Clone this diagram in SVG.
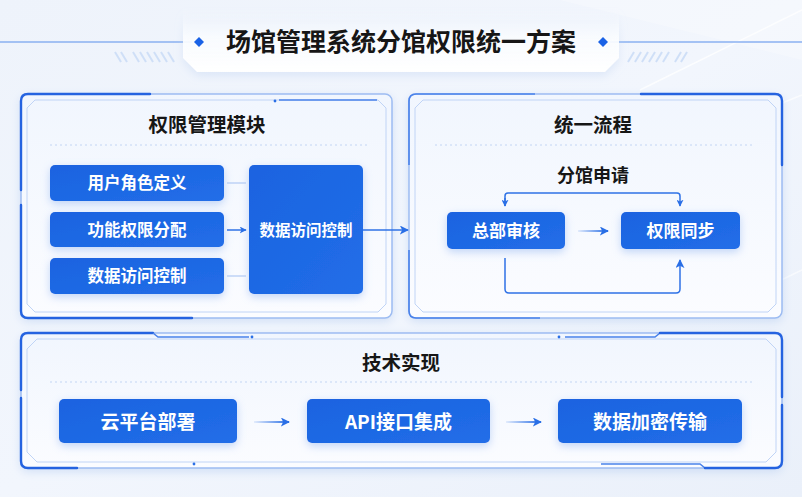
<svg xmlns="http://www.w3.org/2000/svg" width="802" height="497" viewBox="0 0 802 497">
<defs>
<linearGradient id="bg" x1="0" y1="0" x2="1" y2="1">
<stop offset="0" stop-color="#eef3fb"/>
<stop offset="0.5" stop-color="#f2f6fd"/>
<stop offset="1" stop-color="#eaf0fa"/>
</linearGradient>
<linearGradient id="pg" x1="0" y1="0" x2="0" y2="1">
<stop offset="0" stop-color="#f1f6fe"/>
<stop offset="1" stop-color="#fbfcff"/>
</linearGradient>
<linearGradient id="plate" x1="0" y1="0" x2="0" y2="1">
<stop offset="0" stop-color="#f7faff" stop-opacity="0"/>
<stop offset="0.45" stop-color="#fbfdff" stop-opacity="0.9"/>
<stop offset="1" stop-color="#ffffff"/>
</linearGradient>
<linearGradient id="box" x1="0" y1="0" x2="1" y2="1">
<stop offset="0" stop-color="#1a63e0"/>
<stop offset="1" stop-color="#226ee8"/>
</linearGradient>
<linearGradient id="ag1" gradientUnits="userSpaceOnUse" x1="578" y1="0" x2="608" y2="0">
<stop offset="0" stop-color="#2a6fe6" stop-opacity="0.1"/>
<stop offset="1" stop-color="#2a6fe6"/>
</linearGradient>
<linearGradient id="ag2" gradientUnits="userSpaceOnUse" x1="254" y1="0" x2="289" y2="0">
<stop offset="0" stop-color="#2a6fe6" stop-opacity="0.1"/>
<stop offset="1" stop-color="#2a6fe6"/>
</linearGradient>
<linearGradient id="ag3" gradientUnits="userSpaceOnUse" x1="506" y1="0" x2="541" y2="0">
<stop offset="0" stop-color="#2a6fe6" stop-opacity="0.1"/>
<stop offset="1" stop-color="#2a6fe6"/>
</linearGradient>
<filter id="psh" x="-10%" y="-10%" width="120%" height="125%">
<feDropShadow dx="0" dy="3" stdDeviation="5" flood-color="#a9c4ee" flood-opacity="0.45"/>
</filter>
<filter id="tsh" x="-10%" y="-20%" width="120%" height="160%">
<feDropShadow dx="0" dy="4" stdDeviation="4" flood-color="#b7cdef" flood-opacity="0.35"/>
</filter>
<filter id="bsh" x="-20%" y="-30%" width="140%" height="170%">
<feDropShadow dx="0" dy="3" stdDeviation="4" flood-color="#7aa6ee" flood-opacity="0.45"/>
</filter>
<marker id="ah" viewBox="0 0 10 10" refX="9" refY="5" markerWidth="7" markerHeight="7" markerUnits="userSpaceOnUse" orient="auto">
<path d="M0,0 L10,5 L0,10 L2.5,5 Z" fill="#2a6fe6"/>
</marker>
<marker id="ah2" viewBox="0 0 10 10" refX="9" refY="5" markerWidth="9" markerHeight="9" markerUnits="userSpaceOnUse" orient="auto">
<path d="M0,0 L10,5 L0,10 L2.5,5 Z" fill="#2a6fe6"/>
</marker>
</defs>
<style>
.ttl{font-family:"Noto Sans CJK SC","Noto Sans",sans-serif;font-weight:700;fill:#161616;text-anchor:middle}
.bt{font-family:"Noto Sans CJK SC","Noto Sans",sans-serif;font-weight:700;fill:#ffffff;text-anchor:middle}
.panel{fill:url(#pg);stroke:#9dbcf2;stroke-width:1.5;filter:url(#psh)}
.acc{fill:none;stroke:#2563e0;stroke-width:2.4;stroke-linecap:round}
.acc2{fill:none;stroke:#4a82ea;stroke-width:1.6}
.inner{fill:none;stroke:#c0d4f6;stroke-width:1}
.dot{fill:none;stroke:#c3d5f3;stroke-width:1.2;stroke-dasharray:2 3}
.box{fill:url(#box);filter:url(#bsh)}
.ln{fill:none;stroke:#2f72e6;stroke-width:1.5}
.faint{fill:none;stroke:#b5cdf4;stroke-width:1.3}
.hatch{stroke:#cfdff7;stroke-width:2}
.garr{stroke-width:2;fill:none}
</style>
<rect x="0" y="0" width="802" height="497" fill="url(#bg)"/>
<path d="M640,90 L802,10" stroke="#ffffff" stroke-width="1.5" opacity="0.8"/>
<path d="M690,140 L802,95" stroke="#ffffff" stroke-width="1.5" opacity="0.7"/>
<path d="M740,300 L802,270" stroke="#ffffff" stroke-width="1.5" opacity="0.6"/>
<polygon points="560,0 802,0 802,60" fill="#ffffff" opacity="0.25"/>

<g id="title">
<line x1="0" y1="42" x2="192" y2="42" stroke="#8ab0f0" stroke-width="1.5"/>
<line x1="610" y1="42" x2="802" y2="42" stroke="#8ab0f0" stroke-width="1.5"/>
<g class="hatch">
<line x1="115" y1="52" x2="121" y2="62"/><line x1="121" y1="52" x2="127" y2="62"/>
<line x1="133" y1="52" x2="139" y2="62"/><line x1="140" y1="52" x2="146" y2="62"/><line x1="147" y1="52" x2="153" y2="62"/><line x1="154" y1="52" x2="160" y2="62"/><line x1="161" y1="52" x2="167" y2="62"/><line x1="168" y1="52" x2="174" y2="62"/>
<line x1="687" y1="52" x2="681" y2="62"/><line x1="681" y1="52" x2="675" y2="62"/>
<line x1="669" y1="52" x2="663" y2="62"/><line x1="662" y1="52" x2="656" y2="62"/><line x1="655" y1="52" x2="649" y2="62"/><line x1="648" y1="52" x2="642" y2="62"/><line x1="641" y1="52" x2="635" y2="62"/><line x1="634" y1="52" x2="628" y2="62"/>
</g>
<polygon points="183,8 619,8 619,58 605,72 197,72 183,58" fill="url(#plate)" filter="url(#tsh)"/>
<polygon points="199,37 204,42 199,47 194,42" fill="#1a62e6"/>
<polygon points="603,37 608,42 603,47 598,42" fill="#1a62e6"/>
<text class="ttl" x="401" y="51" font-size="25">场馆管理系统分馆权限统一方案</text>
</g>

<g id="panel-permission">
<rect class="panel" x="21" y="94" width="371" height="224" rx="7"/>
<path class="inner" d="M35,100 H378 L386,108 V304 L378,312 H35 L27,304 V108 Z"/>
<path class="acc" d="M21,190 V101 Q21,94 28,94 H150"/>
<path class="acc" d="M21,205 V311 Q21,318 28,318 H192"/>
<line class="acc2" x1="279" y1="100" x2="377" y2="100"/>
<circle cx="275" cy="101" r="1.4" fill="#2a6fe6"/>
<text class="ttl" x="207" y="132" font-size="19.5">权限管理模块</text>
<line class="dot" x1="50" y1="145" x2="370" y2="145"/>
</g>

<g id="node-user-role">
<rect class="box" x="50" y="165" width="174" height="36" rx="5"/>
<text class="bt" x="137" y="189" font-size="16.5">用户角色定义</text>
</g>
<g id="node-func-perm">
<rect class="box" x="50" y="212" width="174" height="35" rx="5"/>
<text class="bt" x="137" y="235.5" font-size="16.5">功能权限分配</text>
</g>
<g id="node-data-access">
<rect class="box" x="50" y="258" width="174" height="36" rx="5"/>
<text class="bt" x="137" y="282" font-size="16.5">数据访问控制</text>
</g>
<g id="node-data-access-main">
<rect class="box" x="249" y="165" width="114" height="129" rx="5"/>
<text class="bt" x="306" y="235.5" font-size="15.5">数据访问控制</text>
</g>

<g id="panel-process">
<rect class="panel" x="409" y="94" width="373" height="224" rx="7"/>
<path class="inner" d="M423,100 H768 L776,108 V304 L768,312 H423 L415,304 V108 Z"/>
<path class="acc" d="M641,94 H775 Q782,94 782,101 V165"/>
<path class="acc2" d="M409,165 V101 Q409,94 416,94 H535"/>
<path class="acc2" d="M409,250 V311 Q409,318 416,318 H540"/>
<text class="ttl" x="593" y="132" font-size="19.5">统一流程</text>
<line class="dot" x1="435" y1="145" x2="755" y2="145"/>
<text class="ttl" x="593" y="181.5" font-size="18" font-weight="600">分馆申请</text>
</g>

<g id="node-hq-review">
<rect class="box" x="447" y="212" width="118" height="37" rx="5"/>
<text class="bt" x="506" y="237" font-size="17">总部审核</text>
</g>
<g id="node-perm-sync">
<rect class="box" x="621" y="212" width="119" height="37" rx="5"/>
<text class="bt" x="680.5" y="237" font-size="17">权限同步</text>
</g>

<g id="panel-tech">
<rect class="panel" x="21" y="333" width="761" height="135" rx="7"/>
<path class="inner" d="M37,339 H766 L776,349 V452 L766,462 H37 L27,452 V349 Z"/>
<path class="acc" d="M21,390 V340 Q21,333 28,333 H153"/>
<path class="acc2" d="M153,333 L158,337 H249"/>
<circle cx="252" cy="337" r="1.4" fill="#2a6fe6"/>
<path class="acc" d="M21,398 V461 Q21,468 28,468 H77"/>
<circle cx="194" cy="464" r="1.4" fill="#2a6fe6"/>
<path class="acc2" d="M565,337 H655 L660,333"/>
<circle cx="559" cy="337" r="1.4" fill="#2a6fe6"/>
<path class="acc" d="M660,333 H775 Q782,333 782,340 V397"/>
<path class="acc2" d="M601,464 H700 L705,468"/>
<path class="acc" d="M705,468 H775 Q782,468 782,461 V405"/>
<text class="ttl" x="401" y="369.5" font-size="19.5">技术实现</text>
<line class="dot" x1="50" y1="382" x2="752" y2="382"/>
</g>

<g id="node-cloud">
<rect class="box" x="59" y="399" width="178" height="44" rx="5"/>
<text class="bt" x="148" y="428.5" font-size="19">云平台部署</text>
</g>
<g id="node-api">
<rect class="box" x="307" y="399" width="183" height="44" rx="5"/>
<text class="bt" x="398.5" y="428.5" font-size="19">API接口集成</text>
</g>
<g id="node-encrypt">
<rect class="box" x="558" y="399" width="184" height="44" rx="5"/>
<text class="bt" x="650" y="428.5" font-size="19">数据加密传输</text>
</g>

<g id="connectors">
<line class="faint" x1="227" y1="183" x2="246" y2="183"/>
<line class="ln" x1="227" y1="230" x2="246" y2="230" marker-end="url(#ah)"/>
<line class="faint" x1="227" y1="276" x2="246" y2="276"/>
<line class="ln" x1="363" y1="230" x2="408" y2="230" marker-end="url(#ah2)"/>
<path class="ln" d="M505,206 V196 Q505,193 508,193 H677 Q680,193 680,196 V206" marker-end="url(#ah)"/>
<line class="ln" x1="505" y1="198" x2="505" y2="206" marker-end="url(#ah)"/>
<line class="garr" x1="578" y1="231" x2="608" y2="231" stroke="url(#ag1)" marker-end="url(#ah2)"/>
<path class="ln" d="M505,258 V289 Q505,293 509,293 H676 Q680,293 680,289 V260" marker-end="url(#ah2)"/>
<line class="garr" x1="254" y1="422" x2="289" y2="422" stroke="url(#ag2)" marker-end="url(#ah2)"/>
<line class="garr" x1="506" y1="422" x2="541" y2="422" stroke="url(#ag3)" marker-end="url(#ah2)"/>
</g>
</svg>
